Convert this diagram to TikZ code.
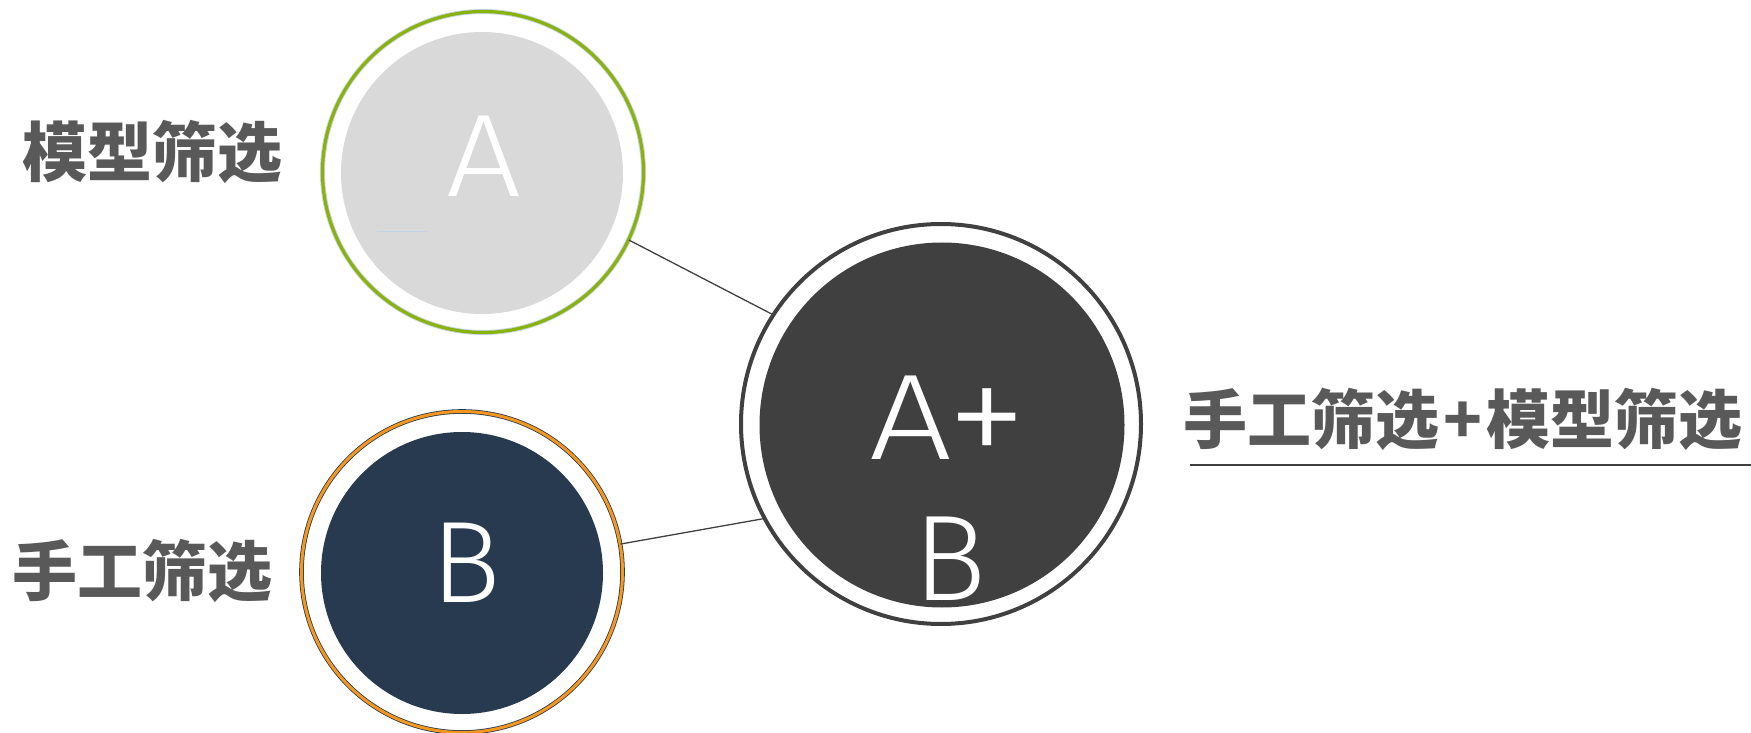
\documentclass[tikz,border=0pt]{standalone}
\usepackage{fontspec}
\newfontfamily\cjk{Noto Sans CJK SC}
\newfontfamily\thin{Fira Sans Light}
\definecolor{agray}{HTML}{D9D9D9}
\definecolor{agreen}{HTML}{8AB30A}
\definecolor{ltblue}{HTML}{C3D3E6}
\definecolor{bnavy}{HTML}{283A4F}
\definecolor{borange}{HTML}{F5961E}
\definecolor{dgray}{HTML}{404040}
\definecolor{txtgray}{HTML}{595959}
\begin{document}
\begin{tikzpicture}[x=1pt,y=1pt,
  lbl/.style={text=txtgray, font=\cjk\bfseries\fontsize{65}{70}\selectfont, inner sep=0, anchor=base west},
  letter/.style={text=white, font=\thin\fontsize{#1}{141}\selectfont, inner sep=0, anchor=base},
  conn/.style={draw=dgray, line width=1.3},
  disc/.style={circle, inner sep=0, minimum size=#1}]
\useasboundingbox (0,0) rectangle (1751,732);
% circle A
\node[disc=282, fill=agray] (Afill) at (482,559) {};
\node[disc=321, draw=ltblue, line width=0.9, double=agreen, double distance=3.2] (A) at (483,560) {};
\node[letter=117.5] (Atext) at (484,535) {\scalebox{1.13}[1]{A}};
\coordinate (m1) at (377,500);
\coordinate (m2) at (427,500);
\draw[ltblue, line width=1] (m1) -- (m2);
% circle B
\node[disc=282, fill=bnavy] (Bfill) at (462,159) {};
\node[disc=321, draw=bnavy, line width=0.8, double=borange, double distance=3] (B) at (462,160) {};
\node[letter=116] (Btext) at (466,130) {B};
% circle A+B
\node[disc=365, fill=dgray] (ABfill) at (942,307) {};
\node[disc=400, draw=dgray, line width=4] (AB) at (941,308) {};
\node[letter=122] (ABtext) at (950,273) {\begin{tabular}[t]{@{}c@{}}\scalebox{1.2}[1]{A}\kern-5pt\raisebox{-12pt}{\scalebox{1.32}{+}}\kern3pt\\B\end{tabular}};
% connectors
\draw[conn] (A.335) -- (AB.147);
\draw[conn] (B.10) -- (AB.208);
% labels
\node[lbl] (lA) at (22,555) {模型筛选};
\node[lbl] (lB) at (12,137) {手工筛选};
\node[lbl, font=\cjk\bfseries\fontsize{64}{70}\selectfont] (lAB) at (1183,289) {手工筛选\kern4pt+\kern4pt 模型筛选};
\coordinate (u1) at (1190,267);
\coordinate (u2) at (1751,267);
\draw[dgray, line width=1.6] (u1) -- (u2);
\end{tikzpicture}
\end{document}
